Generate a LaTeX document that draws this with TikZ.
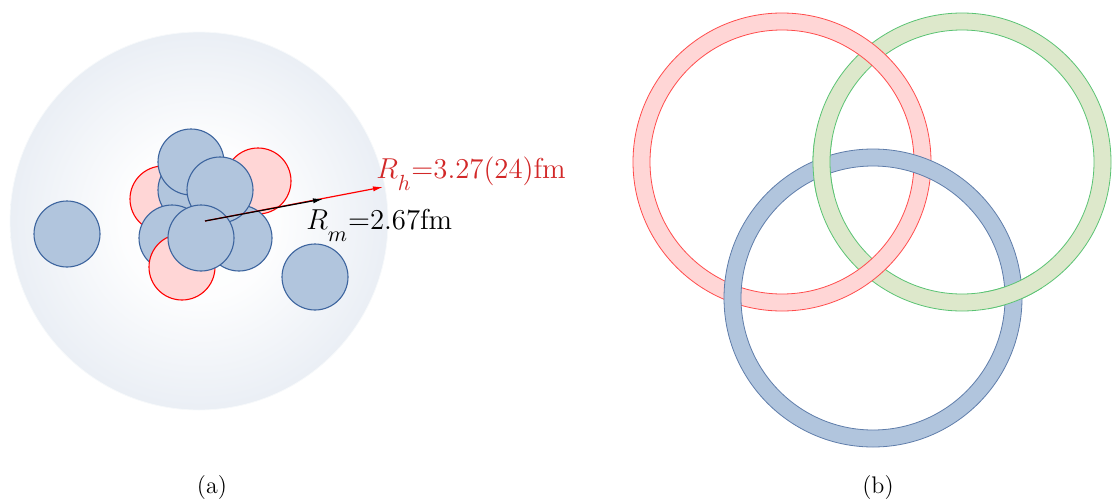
\documentclass[tikz,border=0pt]{standalone}
\usepackage{amsmath}
\usepackage{xcolor}
\usepackage{tikz}
\usetikzlibrary{arrows.meta,calc}

\definecolor{nucblue}{RGB}{177,197,221}
\definecolor{nucedge}{RGB}{60,100,158}
\definecolor{nucred}{RGB}{255,214,214}
\definecolor{labelred}{RGB}{210,40,40}
\definecolor{sphereedge}{RGB}{203,214,230}
\definecolor{ringred}{RGB}{255,214,214}
\definecolor{ringgreen}{RGB}{221,232,203}
\definecolor{ringgreenedge}{RGB}{90,195,115}
\definecolor{ringblue}{RGB}{177,197,221}
\definecolor{ringblueedge}{RGB}{95,125,170}

\pgfdeclareradialshading{sphereshade}{\pgfpoint{0bp}{0bp}}{%
  color(0bp)=(white); color(10bp)=(white!96!sphereedge); color(50bp)=(sphereedge)}

% ring: centre, fill, edge
\newcommand{\ringat}[3]{%
  \fill[#2,even odd rule] (#1) circle (149) (#1) circle (132);
  \draw[#3,line width=0.4pt] (#1) circle (149) (#1) circle (132);}

\begin{document}
\begin{tikzpicture}[
    x=0.5pt,y=-0.5pt,
    bluenuc/.style={fill=nucblue,draw=nucedge,line width=0.55pt},
    rednuc/.style={fill=nucred,draw=red,line width=0.55pt},
    radarr/.style={line width=0.6pt,-{Latex[length=5pt,width=2.6pt]}},
    lab/.style={font=\fontsize{15.2}{18}\selectfont,inner sep=0pt,anchor=base west}
  ]
    \useasboundingbox (0,0) rectangle (1112,503);

    % (a) nucleus
    \shade[shading=sphereshade] (199,221) circle (189);
    \draw[white!85!sphereedge,line width=0.4pt] (199,221) circle (189);
    \path[bluenuc] (67,234) circle (33);
    \path[bluenuc] (315,277) circle (33);
    \path[rednuc] (163,199) circle (33);
    \path[rednuc] (258,181) circle (33);
    \path[bluenuc] (239,238) circle (33);
    \path[bluenuc] (191,190) circle (33);
    \path[bluenuc] (191,162) circle (33);
    \path[bluenuc] (220,190) circle (33);
    \path[bluenuc] (172,238) circle (33);
    \path[rednuc] (182,267) circle (33);
    \path[bluenuc] (201,238) circle (33);

    \coordinate (o) at (205,221);
    \coordinate (rm) at (323,199);
    \coordinate (rh) at (383,187);
    \draw[radarr,red] (o) -- (rh);
    \draw[radarr,black] (o) -- (rm);
    \node[lab,text=labelred] (hlab) at (376,178)
      {$R_{\lower 4pt\hbox{$\scriptstyle h$}}{=}3.27(24)\mathrm{fm}$};
    \node[lab] (mlab) at (306,229)
      {$R_{\lower 4pt\hbox{$\scriptstyle m$}}{=}2.67\mathrm{fm}$};

    % (b) rings
    \coordinate (cr) at (782,162);
    \coordinate (cg) at (962,162);
    \coordinate (cb) at (873,298);
    \ringat{cg}{ringgreen}{ringgreenedge}
    \ringat{cr}{ringred}{red!70}
    \ringat{cb}{ringblue}{ringblueedge}
    \begin{scope}
      \clip (822,167.5) circle (30) (1013,292.5) circle (30);
      \ringat{cg}{ringgreen}{ringgreenedge}
    \end{scope}

    \node[font=\large] (capa) at (212,488) {(a)};
    \node[font=\large] (capb) at (878,488) {(b)};
  \end{tikzpicture}
\end{document}
